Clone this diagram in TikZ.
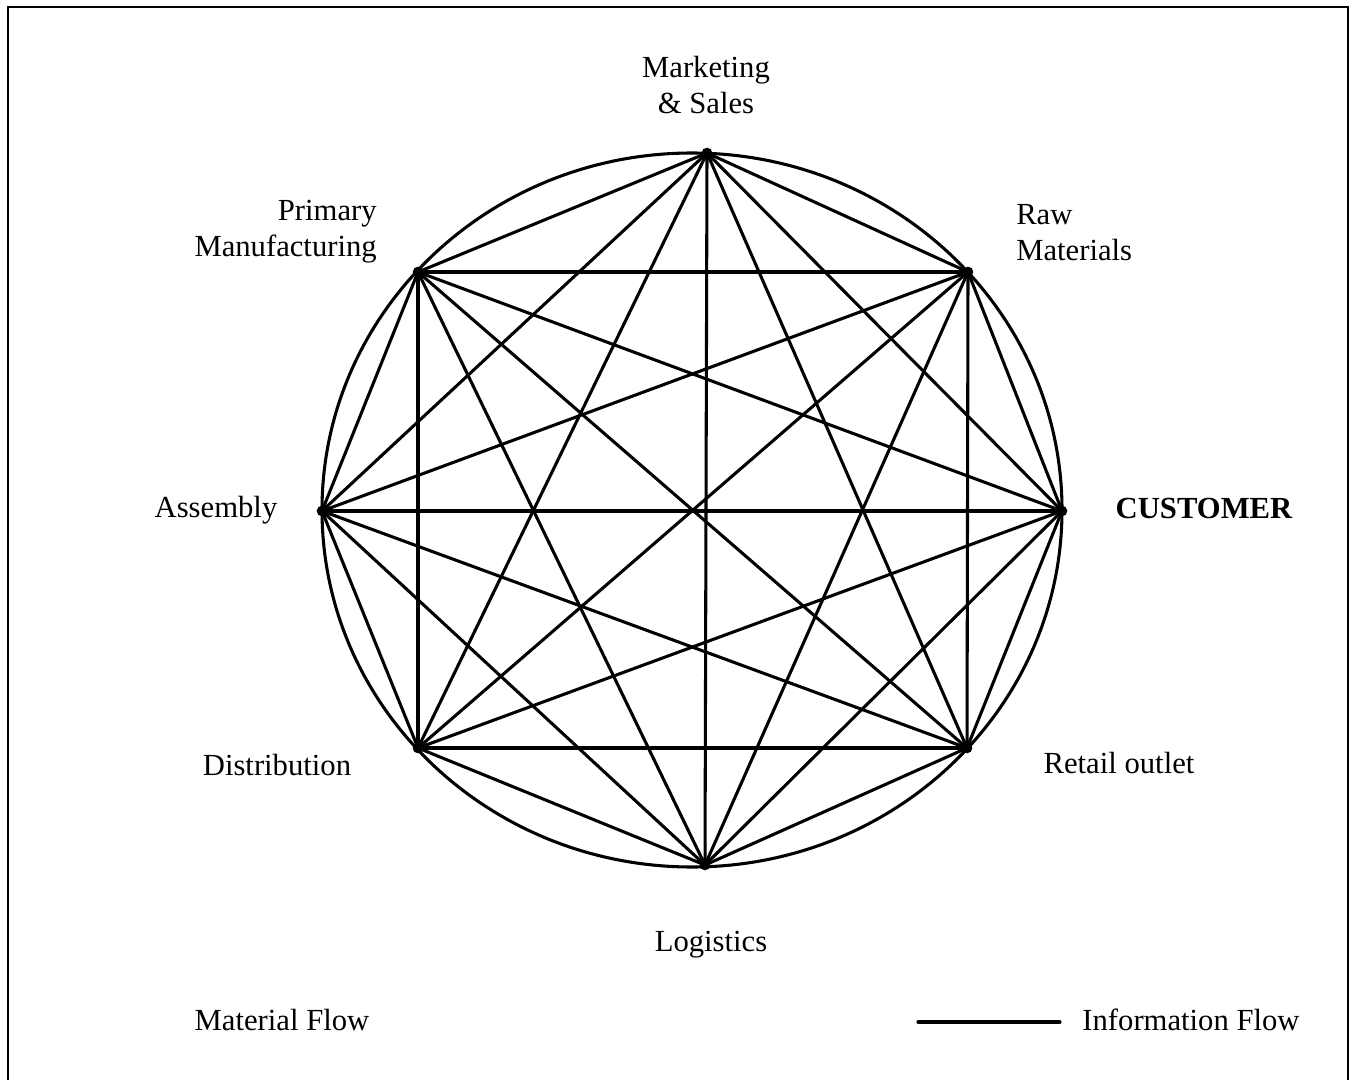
\documentclass[tikz,border=0pt]{standalone}
\usepackage{fontspec}
\setmainfont{Liberation Serif}
\begin{document}
\begin{tikzpicture}[x=0.75pt,y=-0.75pt,
  lbl/.style={font=\fontsize{23pt}{27pt}\selectfont, inner sep=0pt, align=center},
  link/.style={line width=2.3pt, line cap=round},
  hub/.style={circle, fill=black, inner sep=0pt, minimum size=8pt}]
\useasboundingbox (0,0) rectangle (1355,1080);
% outer frame
\draw[line width=1.8pt] (8,1100) -- (8,7) -- (1348,7) -- (1348,1100);
% ring
\draw[link] (692,510) ellipse [x radius=370, y radius=357];
% the eight partners
\node[hub] (ms) at (707,153) {};
\node[hub] (rm) at (968,272) {};
\node[hub] (cu) at (1062,511) {};
\node[hub] (ro) at (967,748) {};
\node[hub] (lo) at (705,865) {};
\node[hub] (di) at (418,748) {};
\node[hub] (as) at (322,511) {};
\node[hub] (pm) at (418,272) {};
% every pair is linked
\foreach \a/\b in {ms/rm,ms/cu,ms/ro,ms/lo,ms/di,ms/as,ms/pm,
                   rm/cu,rm/ro,rm/lo,rm/di,rm/as,rm/pm,
                   cu/ro,cu/lo,cu/di,cu/as,cu/pm,
                   ro/lo,ro/di,ro/as,ro/pm,
                   lo/di,lo/as,lo/pm,
                   di/as,di/pm,
                   as/pm}
  \draw[link] (\a.center) -- (\b.center);
% labels
\node[lbl] (tms) at (706,85) {Marketing\\\& Sales};
\node[lbl, align=right, anchor=east] (tpm) at (377,232) {Primary\\Manufacturing};
\node[lbl, align=left, anchor=west] (trm) at (1016,233) {Raw\\Materials};
\node[lbl] (tas) at (216,510) {Assembly};
\node[lbl, font=\fontsize{23pt}{27pt}\selectfont\bfseries] (tcu) at (1204,508) {CUSTOMER};
\node[lbl] (tdi) at (277,765) {Distribution};
\node[lbl] (tro) at (1119,763) {Retail outlet};
\node[lbl] (tlo) at (711,945) {Logistics};
% key
\node[lbl] (kmf) at (282,1020) {Material Flow};
\node[lbl] (kif) at (1191,1020) {Information Flow};
\coordinate (k1) at (918,1022);
\coordinate (k2) at (1060,1022);
\draw[link] (k1) -- (k2);
\end{tikzpicture}
\end{document}
